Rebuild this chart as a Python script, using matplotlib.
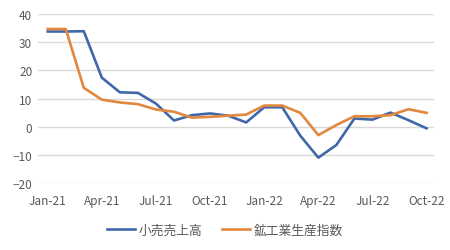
import matplotlib
matplotlib.use("Agg")
import matplotlib.pyplot as plt

plt.rcParams['font.family'] = ['Noto Sans CJK JP', 'DejaVu Sans']

months = ["Jan-21", "Feb-21", "Mar-21", "Apr-21", "May-21", "Jun-21", "Jul-21", "Aug-21",
          "Sep-21", "Oct-21", "Nov-21", "Dec-21", "Jan-22", "Feb-22", "Mar-22", "Apr-22",
          "May-22", "Jun-22", "Jul-22", "Aug-22", "Sep-22", "Oct-22"]
retail = [33.8, 33.8, 33.9, 17.4, 12.2, 12.0, 8.2, 2.2, 4.1, 4.7, 3.9, 1.5,
          6.9, 6.9, -3.2, -11.0, -6.5, 2.9, 2.5, 5.0, 2.3, -0.6]
industrial = [34.7, 34.7, 13.8, 9.6, 8.6, 8.0, 6.1, 5.3, 3.2, 3.5, 3.9, 4.3,
              7.5, 7.5, 4.9, -3.0, 0.6, 3.7, 3.7, 4.1, 6.2, 4.9]
series_names = ["小売売上高", "鉱工業生産指数"]
yticks = [-20, -10, 0, 10, 20, 30, 40]

fig = plt.figure(figsize=(4.5, 2.51), dpi=100)
ax = fig.add_axes([0.084, 0.267, 0.88, 0.673])
x = list(range(len(months)))
ax.plot(x, retail, color="#4068A8", lw=1.9, label=series_names[0])
ax.plot(x, industrial, color="#E1873E", lw=1.9, label=series_names[1])

ax.set_ylim(-20, 40)
ax.set_xlim(-0.55, 21.4)
ax.set_yticks(yticks)
ax.set_xticks(x[::3])
ax.set_xticklabels(months[::3])
ax.grid(axis='y', color="#d9d9d9", lw=1)
ax.set_axisbelow(True)
for s in ax.spines.values():
    s.set_visible(False)
ax.tick_params(length=0, labelsize=8.5, colors="#595959", pad=4)
ax.tick_params(axis='x', pad=8)
fig.legend(loc='center', bbox_to_anchor=(0.5, 0.08), ncol=2, frameon=False,
           fontsize=9.2, handlelength=2.2, columnspacing=1.5, handletextpad=0.3,
           labelcolor="#595959")
fig.savefig("out.png", dpi=100)
